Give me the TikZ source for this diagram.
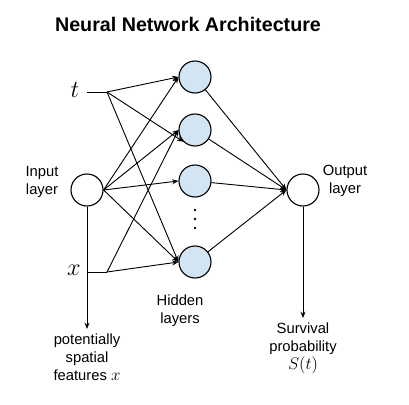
\documentclass[tikz,border=0pt]{standalone}
\usepackage{fontspec}
\setmainfont{Liberation Sans}
\usetikzlibrary{arrows.meta,positioning,calc}
\definecolor{hidblue}{HTML}{D3E4F3}

\begin{document}
\begin{tikzpicture}[x=0.025cm, y=-0.025cm,
    neuron/.style={circle, draw, line width=0.8pt, minimum size=0.8cm, inner sep=0pt},
    hidden/.style={neuron, fill=hidblue},
    edge/.style={line width=0.65pt, -{Stealth[length=4.5pt,width=3.6pt]}},
    plain/.style={line width=0.65pt},
    lbl/.style={align=center, font=\fontsize{10.5}{12.8}\selectfont}]
  \useasboundingbox (0,0) rectangle (409,405);
  % Title
  \node[font=\fontsize{14}{16}\selectfont\bfseries] (title) at (188,24) {Neural Network Architecture};
  % Layers
  \node[neuron] (in) at (87,190) {};
  \node[hidden] (h1) at (195,77) {};
  \node[hidden] (h2) at (195,130) {};
  \node[hidden] (h3) at (195,181) {};
  \node[hidden] (h4) at (195,262) {};
  \node[neuron] (out) at (303,190) {};
  % Dots between hidden units
  \foreach \yy in {210,219,228}
    \fill (195,\yy) circle (1.3);
  % Inputs t and x
  \node[font=\LARGE] (t) at (75,90) {$t$};
  \node[font=\LARGE] (x) at (74,270) {$x$};
  \coordinate (tb) at (107,92);
  \coordinate (xb) at (107,272);
  \draw[plain] (87,92) -- (tb);
  \draw[plain] (87,272) -- (xb);
  \draw[edge] (tb) -- (h1.west);
  \draw[edge] (tb) -- (h2.south west);
  \draw[edge] (tb) -- (h4.west);
  \draw[edge] (xb) -- (h2.west);
  \draw[edge] (xb) -- (h4.west);
  % Input layer to hidden layers
  \foreach \h in {h1,h2,h3,h4}
    \draw[edge] (in.east) -- (\h.west);
  % Hidden layers to output layer
  \foreach \h in {h1,h2,h3,h4}
    \draw[edge] (\h) -- (out.west);
  % Labels
  \node[lbl] (inlbl) at (42,182) {Input\\layer};
  \node[lbl] (outlbl) at (345,181) {Output\\layer};
  \node[lbl] (hidlbl) at (180,311) {Hidden\\layers};
  \node[lbl, anchor=north] (feat) at (87,329) {potentially\\spatial\\features {\large$x$}};
  \node[lbl, anchor=north] (surv) at (303,318) {Survival\\probability\\{\large$S(t)$}};
  \draw[edge] (in.south) -- (feat.north);
  \draw[edge] (out.south) -- (surv.north);
\end{tikzpicture}
\end{document}
